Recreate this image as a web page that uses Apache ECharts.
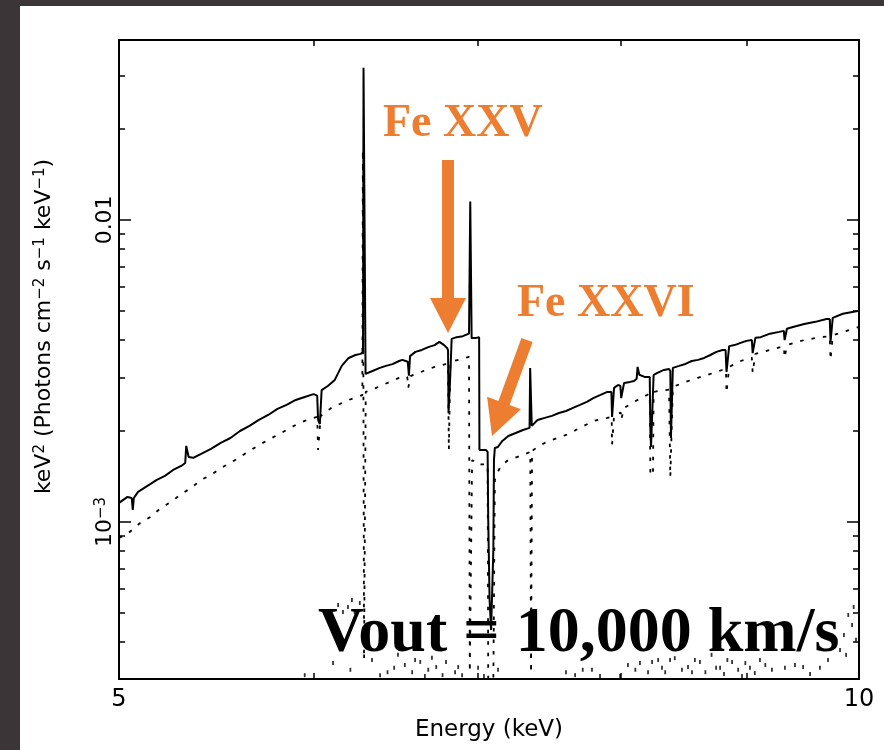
<!DOCTYPE html>
<html><head><meta charset="utf-8">
<script src="https://cdn.jsdelivr.net/npm/echarts@6/dist/echarts.min.js"></script>
<style>html,body{margin:0;padding:0;background:#fff}#c{width:884px;height:750px}</style>
</head><body><div id="c"></div>
<script>
// ---------- data (energy in keV, flux in units of 1e-3 keV^2 photons cm^-2 s^-1 keV^-1) ----------
const FLUX_UNIT = 1e-3;
const xRange = [5, 10];
const yRange = [3.02e-4, 0.0394];
const xLabelTicks = [5, 10];
const xMinorTicks = [6, 7, 8, 9];
const yMajorTicks = [0.001, 0.01];
const yMajorLabels = ['{n|10}{sup|−3}', '{n|0.01}'];
const yMinorTicks = [4e-4, 5e-4, 6e-4, 7e-4, 8e-4, 9e-4, 2e-3, 3e-3, 4e-3, 5e-3, 6e-3, 7e-3, 8e-3, 9e-3, 0.02, 0.03];

const solidE = [5.00,5.02,5.04,5.06,5.065,5.07,5.09,5.12,5.15,5.18,5.22,5.26,5.30,5.32,5.325,5.332,5.337,5.36,5.40,5.45,5.50,5.55,5.60,5.65,5.70,5.75,5.80,5.85,5.90,5.95,6.00,6.02,6.025,6.035,6.045,6.08,6.12,6.16,6.20,6.24,6.27,6.284,6.287,6.296,6.299,6.34,6.38,6.42,6.46,6.50,6.52,6.553,6.56,6.567,6.60,6.64,6.68,6.72,6.75,6.78,6.80,6.805,6.808,6.815,6.818,6.826,6.828,6.86,6.90,6.94,6.946,6.948,6.955,6.957,6.98,7.006,7.008,7.05,7.062,7.066,7.075,7.085,7.095,7.10,7.104,7.11,7.13,7.16,7.20,7.25,7.30,7.345,7.349,7.356,7.36,7.40,7.45,7.50,7.55,7.60,7.65,7.70,7.75,7.80,7.85,7.90,7.93,7.935,7.945,7.95,7.98,7.997,8.003,8.015,8.025,8.07,8.10,8.12,8.127,8.133,8.14,8.18,8.22,8.225,8.23,8.245,8.25,8.28,8.33,8.37,8.38,8.385,8.395,8.40,8.45,8.50,8.55,8.60,8.65,8.70,8.75,8.80,8.825,8.833,8.845,8.855,8.90,8.95,9.00,9.045,9.052,9.065,9.075,9.12,9.20,9.28,9.32,9.327,9.34,9.347,9.40,9.50,9.60,9.70,9.73,9.737,9.75,9.757,9.85,9.95,10.0];
const solidF = [1.156,1.183,1.21,1.20,1.095,1.20,1.257,1.296,1.336,1.378,1.42,1.486,1.532,1.567,1.785,1.785,1.64,1.63,1.68,1.745,1.826,1.896,2.0,2.08,2.176,2.26,2.366,2.44,2.534,2.592,2.65,2.62,2.176,2.11,2.73,2.818,2.953,3.285,3.49,3.57,3.60,3.656,31.9,31.9,3.09,3.16,3.23,3.285,3.33,3.41,3.44,3.39,3.05,3.54,3.656,3.71,3.79,3.85,3.946,3.85,3.76,3.70,2.29,2.29,2.95,2.95,4.036,4.09,4.12,4.2,4.2,11.5,11.5,4.06,4.06,4.09,1.732,1.732,1.705,1.015,0.552,0.439,0.439,0.808,1.604,1.758,1.77,1.854,1.926,1.97,2.016,2.048,3.23,3.23,2.08,2.176,2.21,2.245,2.295,2.33,2.385,2.44,2.497,2.573,2.633,2.695,2.69,2.226,2.226,2.78,2.84,2.82,2.57,2.57,2.886,2.908,2.93,2.98,3.26,3.26,3.07,3.02,3.02,2.016,1.77,1.77,3.07,3.115,3.186,3.21,3.16,1.897,1.897,3.236,3.285,3.335,3.41,3.44,3.49,3.57,3.656,3.71,3.71,3.139,3.139,3.82,3.85,3.915,3.976,4.0,3.62,3.62,4.07,4.09,4.2,4.258,4.29,4.0,4.0,4.36,4.42,4.52,4.596,4.70,4.70,3.946,3.946,4.74,4.887,4.96,5.0];

const dottedE = [5.00,5.04,5.10,5.15,5.20,5.25,5.30,5.35,5.40,5.45,5.50,5.55,5.60,5.65,5.70,5.75,5.80,5.85,5.90,5.95,6.00,6.02,6.025,6.035,6.04,6.10,6.20,6.28,6.283,6.287,6.29,6.298,6.30,6.35,6.40,6.50,6.55,6.556,6.565,6.57,6.65,6.72,6.79,6.805,6.81,6.815,6.82,6.88,6.94,6.945,6.955,6.96,7.00,7.008,7.062,7.066,7.10,7.11,7.13,7.15,7.20,7.30,7.35,7.353,7.355,7.358,7.362,7.40,7.45,7.50,7.60,7.70,7.80,7.90,7.932,7.935,7.945,7.95,8.00,8.003,8.015,8.025,8.10,8.20,8.22,8.225,8.245,8.25,8.30,8.37,8.38,8.395,8.40,8.50,8.60,8.70,8.80,8.828,8.833,8.845,8.855,8.95,9.045,9.052,9.065,9.075,9.20,9.32,9.327,9.34,9.347,9.50,9.65,9.73,9.737,9.75,9.757,9.90,10.0];
const dottedF = [0.885,0.913,0.992,1.039,1.112,1.165,1.238,1.296,1.378,1.431,1.509,1.567,1.641,1.718,1.798,1.868,1.941,2.016,2.095,2.16,2.21,2.226,1.732,1.732,2.245,2.385,2.534,2.63,17.05,17.05,0.35,0.35,2.695,2.76,2.84,3.0,3.02,2.776,2.776,3.04,3.16,3.26,3.33,3.33,1.732,1.732,3.39,3.45,3.52,0.318,0.318,1.60,1.58,1.55,1.55,0.30,0.30,1.378,1.464,1.532,1.604,1.666,1.705,1.705,0.316,0.316,1.718,1.771,1.826,1.868,1.941,2.048,2.16,2.21,2.23,1.80,1.80,2.26,2.30,2.176,2.176,2.385,2.497,2.633,2.66,1.431,1.431,2.695,2.718,2.74,1.409,1.409,2.80,2.908,3.0,3.09,3.186,3.2,2.674,2.674,3.26,3.41,3.5,3.115,3.115,3.6,3.71,3.82,3.49,3.49,3.85,4.0,4.09,4.12,3.44,3.44,4.15,4.31,4.42];

const noiseE = [5.95,6.11,6.196,6.235,6.265,6.21,6.43,6.47,6.535,6.58,6.63,6.68,6.73,6.77,6.87,6.895,7.665,7.72,7.995,8.11,8.145,8.285,8.34,8.415,8.52,8.575,8.66,8.71,8.78,8.84,8.93,8.99,9.07,9.16,9.33,9.49,9.86,9.90,9.95,9.88,
  6.139,6.167,6.219,6.337,6.385,6.493,6.598,6.659,6.703,6.792,6.850,6.999,7.038,7.131,7.600,7.787,7.846,8.054,8.207,8.238,8.315,8.378,8.472,8.552,8.616,8.747,8.812,8.879,8.962,9.029,9.114,9.217,9.418,9.552,9.641,9.714,9.824,9.935,9.972];
const noiseF = [0.311,0.341,0.523,0.503,0.539,0.324,0.318,0.329,0.336,0.318,0.344,0.324,0.331,0.311,0.331,0.311,0.311,0.324,0.309,0.324,0.341,0.349,0.318,0.354,0.331,0.349,0.318,0.363,0.329,0.349,0.324,0.341,0.316,0.336,0.329,0.331,0.422,0.492,0.523,0.363,
  0.531,0.503,0.552,0.349,0.311,0.363,0.349,0.309,0.355,0.344,0.318,0.329,0.309,0.324,0.318,0.324,0.309,0.336,0.318,0.344,0.329,0.349,0.324,0.318,0.344,0.329,0.314,0.344,0.309,0.329,0.349,0.324,0.336,0.314,0.329,0.349,0.377,0.456,0.407];

const xTitle = 'Energy (keV)';
const yTitle = '{n|keV}{sup|2}{n| (Photons cm}{sup|−2}{n| s}{sup|−1}{n| keV}{sup|−1}{n|)}';
const annoXXV = 'Fe XXV';
const annoXXVI = 'Fe XXVI';
const annoVout = 'Vout = 10,000 km/s';

// ---------- chart ----------
const SANS = '"DejaVu Sans", "Liberation Sans", sans-serif';
const SERIF = '"Liberation Serif", "DejaVu Serif", serif';
const ORANGE = '#ED7D31';
const pairs = (xs, ys) => xs.map((x, i) => [x, ys[i] * FLUX_UNIT]);
const L = v => Math.log10(v);
const lx = [L(xRange[0]), L(xRange[1])];
const ly = [L(yRange[0]), L(yRange[1])];
const richLbl = {
  n: {fontSize: 22, fontFamily: SANS, color: '#000', verticalAlign: 'bottom'},
  sup: {fontSize: 15, fontFamily: SANS, color: '#000', verticalAlign: 'top'}
};

function tickX(pos, showLabels) {
  return {
    type: 'value', position: pos, min: lx[0], max: lx[1],
    axisLine: {show: false}, splitLine: {show: false},
    axisTick: {show: true, inside: true, length: 6, lineStyle: {color: '#000', width: 1.5}, customValues: xMinorTicks.map(v => L(v))},
    axisLabel: showLabels ? {
      show: true, margin: 9, color: '#000', fontFamily: SANS, fontSize: 24,
      customValues: xLabelTicks.map(v => L(v)),
      formatter: v => String(Math.round(Math.pow(10, v)))
    } : {show: false},
    name: showLabels ? xTitle : '', nameLocation: 'middle', nameGap: 40,
    nameTextStyle: {color: '#000', fontFamily: SANS, fontSize: 23}
  };
}
function tickY(pos, vals, len, showLabels) {
  const ax = {
    type: 'value', position: pos, min: ly[0], max: ly[1],
    axisLine: {show: false}, splitLine: {show: false},
    axisTick: {show: true, inside: true, length: len, lineStyle: {color: '#000', width: 1.5}, customValues: vals.map(v => L(v))},
    axisLabel: {show: false}
  };
  if (showLabels) {
    ax.axisLabel = {
      show: true, rotate: 90, margin: 3, customValues: yMajorTicks.map(v => L(v)),
      formatter: v => { const i = yMajorTicks.findIndex(t => Math.abs(L(t) - v) < 1e-6); return yMajorLabels[i]; },
      rich: richLbl
    };
    ax.name = yTitle;
    ax.nameLocation = 'middle';
    ax.nameRotate = 90;
    ax.nameGap = 64;
    ax.nameTextStyle = {rich: richLbl, padding: [0, 0, 0, 66]};
  }
  return ax;
}

const chart = echarts.init(document.getElementById('c'), null, {renderer: 'canvas'});
chart.setOption({
  animation: false,
  backgroundColor: '#fff',
  grid: {left: 119, right: 25, top: 40, bottom: 71, show: true, borderColor: '#000', borderWidth: 2, containLabel: false},
  xAxis: [
    {type: 'log', min: xRange[0], max: xRange[1], show: false},
    tickX('bottom', true),
    tickX('top', false)
  ],
  yAxis: [
    {type: 'log', min: yRange[0], max: yRange[1], show: false},
    tickY('left', yMajorTicks, 12, true),
    tickY('left', yMinorTicks, 6, false),
    tickY('right', yMajorTicks, 12, false),
    tickY('right', yMinorTicks, 6, false)
  ],
  series: [
    {type: 'line', xAxisIndex: 0, yAxisIndex: 0, data: pairs(dottedE, dottedF), showSymbol: false, symbol: 'none',
     lineStyle: {color: '#000', width: 1.8, type: [3.5, 8]}, z: 2, silent: true},
    {type: 'scatter', xAxisIndex: 0, yAxisIndex: 0, data: pairs(noiseE, noiseF), symbol: 'rect', symbolSize: [1.8, 4],
     itemStyle: {color: '#000'}, z: 2, silent: true},
    {type: 'line', xAxisIndex: 0, yAxisIndex: 0, data: pairs(solidE, solidF), showSymbol: false, symbol: 'none',
     lineStyle: {color: '#000', width: 2}, z: 3, silent: true}
  ],
  graphic: [
    {type: 'rect', shape: {x: 0, y: 0, width: 884, height: 6}, style: {fill: '#3b3537'}, z: 200},
    {type: 'rect', shape: {x: 0, y: 0, width: 20, height: 750}, style: {fill: '#3b3537'}, z: 200},
    {type: 'polygon', shape: {points: [[442,160],[454,160],[454,298],[466,298],[448,333],[430,298],[442,298]]}, style: {fill: ORANGE}, z: 150},
    {type: 'polygon', shape: {points: [[521.4,337.9],[532.6,342.1],[509.6,405.1],[520.9,409.2],[492,436],[487.1,396.8],[498.4,400.9]]}, style: {fill: ORANGE}, z: 150},
    {type: 'text', x: 383, y: 124, style: {text: annoXXV, fill: ORANGE, font: 'bold 46px ' + SERIF, textVerticalAlign: 'middle', verticalAlign: 'middle'}, z: 150},
    {type: 'text', x: 517, y: 304, style: {text: annoXXVI, fill: ORANGE, font: 'bold 46px ' + SERIF, textVerticalAlign: 'middle', verticalAlign: 'middle'}, z: 150},
    {type: 'text', x: 318, y: 634, style: {text: annoVout, fill: '#000', font: 'bold 64px ' + SERIF, textVerticalAlign: 'middle', verticalAlign: 'middle'}, z: 150}
  ]
});
</script></body></html>
